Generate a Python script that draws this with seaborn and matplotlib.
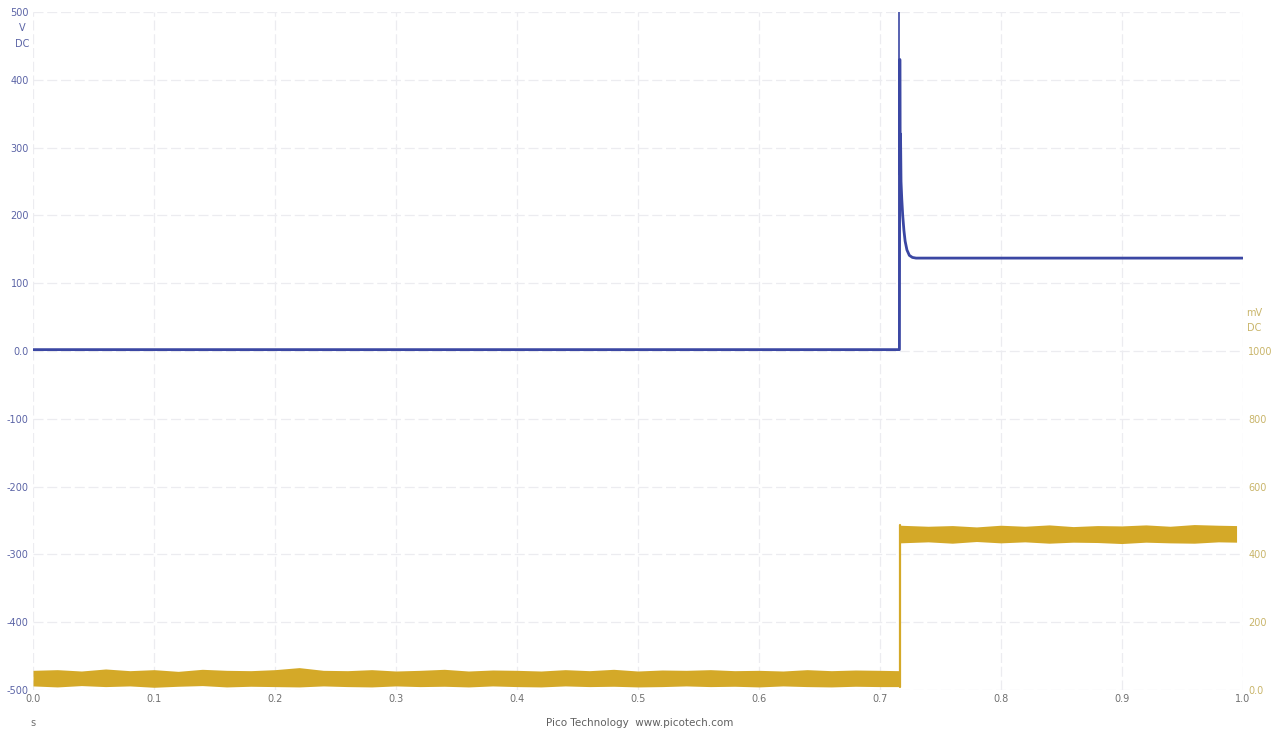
import numpy as np
import pandas as pd
import matplotlib
matplotlib.use("Agg")
import matplotlib.pyplot as plt
import seaborn as sns

# --------------------------
# Data read off the scope capture
# --------------------------
# channel A (blue, V DC): step with a short spike at ~0.7165 s
volt_t = [0.0, 0.7163, 0.7166, 0.7169, 0.7172, 0.7176, 0.7182, 0.7190,
          0.7200, 0.7210, 0.7225, 0.7245, 0.7270, 0.7300, 1.0]
volt_v = [2.0, 2.0, 430.0, 260.0, 320.0, 250.0, 225.0, 200.0,
          178.0, 162.0, 149.0, 141.0, 138.0, 137.0, 137.0]
spike_top = 600.0

# channel B (yellow, mV DC): noisy band, envelope
cur_t = [0.0, 0.02, 0.04, 0.06, 0.08, 0.10, 0.12, 0.14, 0.16, 0.18, 0.20,
         0.22, 0.24, 0.26, 0.28, 0.30, 0.32, 0.34, 0.36, 0.38, 0.40, 0.42,
         0.44, 0.46, 0.48, 0.50, 0.52, 0.54, 0.56, 0.58, 0.60, 0.62, 0.64,
         0.66, 0.68, 0.70, 0.7164,
         0.7166, 0.74, 0.76, 0.78, 0.80, 0.82, 0.84, 0.86, 0.88, 0.90,
         0.92, 0.94, 0.96, 0.98, 0.995]
cur_hi = [58, 60, 56, 62, 57, 60, 55, 61, 58, 57, 60, 66, 58, 57, 60, 56,
          58, 61, 56, 59, 58, 56, 60, 57, 61, 56, 59, 58, 60, 57, 58, 56,
          60, 57, 59, 58, 57,
          486, 483, 485, 481, 486, 483, 487, 482, 485, 484, 487, 483, 488,
          486, 485]
cur_lo = [12, 9, 13, 10, 12, 8, 11, 13, 9, 11, 10, 9, 12, 10, 9, 12, 10,
          11, 9, 12, 10, 9, 12, 10, 11, 9, 10, 12, 10, 11, 9, 12, 10, 9,
          11, 10, 10,
          434, 437, 433, 438, 434, 437, 433, 436, 435, 432, 436, 434, 433,
          437, 436]

x_ticks = [0.0, 0.1, 0.2, 0.3, 0.4, 0.5, 0.6, 0.7, 0.8, 0.9, 1.0]
left_ticks = [-500, -400, -300, -200, -100, 0, 100, 200, 300, 400, 500]
left_labels = ["-500", "-400", "-300", "-200", "-100", "0.0",
               "100", "200", "300", "400", "500"]
right_ticks = [0, 200, 400, 600, 800, 1000]
right_labels = ["0.0", "200", "400", "600", "800", "1000"]

BLUE = "#3b47a3"
YELLOW = "#d4a928"

volt_df = pd.DataFrame({"t": volt_t, "v": volt_v})

sns.set_theme(style="white")
fig = plt.figure(figsize=(12.85, 7.3), dpi=100)
ax = fig.add_axes([0.0257, 0.0548, 0.9413, 0.9288])
ax2 = ax.twinx()

# grid (faint dashed, like the scope software) - on the lower axis
for x in x_ticks:
    ax.axvline(x, color="#ececf0", lw=0.9, ls=(0, (8, 3)), zorder=0)
for y in left_ticks:
    ax.axhline(y, color="#ececf0", lw=0.9, ls=(0, (8, 3)), zorder=0)

# blue trace
ax.plot([volt_t[1], volt_t[1]], [volt_v[1], spike_top], color=BLUE, lw=1.2)
sns.lineplot(data=volt_df, x="t", y="v", color=BLUE, lw=2.0, ax=ax,
             estimator=None, sort=False)

# yellow band on the right axis (drawn above the grid)
ax2.fill_between(cur_t, cur_lo, cur_hi, color=YELLOW, lw=0, zorder=2)
ax2.plot([cur_t[36], cur_t[36]], [cur_lo[36], cur_hi[37]], color=YELLOW,
         lw=1.6, zorder=2)
ax2.set_ylim(0, 2000)
ax2.set_yticks(right_ticks)
ax2.set_yticklabels(right_labels, color="#c9b56a", fontsize=7)
ax2.tick_params(axis="y", length=0, pad=4)
ax2.grid(False)

ax.set_xlim(0, 1.0)
ax.set_ylim(-500, 500)
ax.set_xticks(x_ticks)
ax.set_xticklabels([f"{v:.1f}" for v in x_ticks], color="#707070", fontsize=7)
ax.set_yticks(left_ticks)
ax.set_yticklabels(left_labels, color="#5b64a6", fontsize=7)
ax.tick_params(axis="both", length=0, pad=3)
ax.set_xlabel("")
ax.set_ylabel("")
for a in (ax, ax2):
    for s in a.spines.values():
        s.set_visible(False)

# unit labels
fig.text(0.0175, 0.958, "V", color="#5b64a6", fontsize=7, ha="center")
fig.text(0.0175, 0.936, "DC", color="#5b64a6", fontsize=7, ha="center")
fig.text(0.976, 0.567, "mV", color="#c9b56a", fontsize=7, ha="center")
fig.text(0.976, 0.547, "DC", color="#c9b56a", fontsize=7, ha="center")
fig.text(0.026, 0.006, "s", color="#707070", fontsize=7, ha="center")
fig.text(0.498, 0.006, "Pico Technology  www.picotech.com", color="#606060",
         fontsize=7.5, ha="center")

fig.savefig("out.png", dpi=100)
